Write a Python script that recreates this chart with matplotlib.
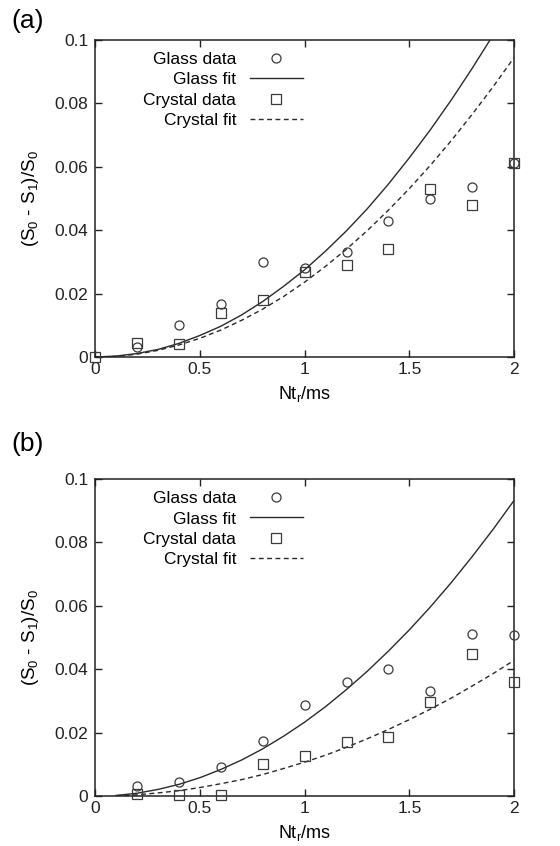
import matplotlib
matplotlib.use('Agg')
import matplotlib.pyplot as plt

plt.rcParams['font.family'] = ['Liberation Sans', 'DejaVu Sans']
plt.rcParams['mathtext.fontset'] = 'custom'
plt.rcParams['mathtext.rm'] = 'Liberation Sans'
plt.rcParams['mathtext.it'] = 'Liberation Sans'
plt.rcParams['mathtext.default'] = 'rm'

# data
data_x = [0.2, 0.4, 0.6, 0.8, 1.0, 1.2, 1.4, 1.6, 1.8, 2.0]
glass_a = [0.0033, 0.0101, 0.0167, 0.0301, 0.0282, 0.0332, 0.0430, 0.0498, 0.0537, 0.0613]
crystal_a_x = [0.0, 0.2, 0.4, 0.6, 0.8, 1.0, 1.2, 1.4, 1.6, 1.8, 2.0]
crystal_a = [0.0, 0.0045, 0.0040, 0.0140, 0.0180, 0.0269, 0.0290, 0.0340, 0.0531, 0.0480, 0.0611]
glass_b = [0.0033, 0.0044, 0.0093, 0.0175, 0.0287, 0.0361, 0.0400, 0.0330, 0.0511, 0.0507]
crystal_b = [0.0006, 0.0002, 0.0002, 0.0101, 0.0126, 0.0170, 0.0185, 0.0296, 0.0447, 0.0361]

# fit curves
fit_x = [0.0, 0.1, 0.2, 0.3, 0.4, 0.5, 0.6, 0.7, 0.8, 0.9, 1.0,
         1.1, 1.2, 1.3, 1.4, 1.5, 1.6, 1.7, 1.8, 1.9, 2.0]
glass_fit_a = [0, 0.0003, 0.0011, 0.0024, 0.0043, 0.0068, 0.0097, 0.0133, 0.0175, 0.0223, 0.0275,
               0.0334, 0.0398, 0.0468, 0.0545, 0.0628, 0.0716, 0.0810, 0.0910, 0.1015, 0.1125]
crystal_fit_a = [0, 0.0002, 0.0009, 0.0021, 0.0038, 0.0059, 0.0085, 0.0116, 0.0151, 0.0191, 0.0236,
                 0.0286, 0.0340, 0.0399, 0.0463, 0.0531, 0.0604, 0.0682, 0.0765, 0.0852, 0.0944]
glass_fit_b = [0, 0.0002, 0.0009, 0.0021, 0.0037, 0.0058, 0.0084, 0.0114, 0.0149, 0.0189, 0.0233,
               0.0282, 0.0336, 0.0394, 0.0457, 0.0524, 0.0596, 0.0673, 0.0755, 0.0841, 0.0932]
crystal_fit_b = [0, 0.0001, 0.0004, 0.0010, 0.0017, 0.0027, 0.0039, 0.0052, 0.0068, 0.0087, 0.0107,
                 0.0129, 0.0154, 0.0181, 0.0210, 0.0241, 0.0274, 0.0309, 0.0347, 0.0386, 0.0428]

x_ticks = [0, 0.5, 1, 1.5, 2]
x_tick_labels = ['0', '0.5', '1', '1.5', '2']
y_ticks = [0, 0.02, 0.04, 0.06, 0.08, 0.1]
y_tick_labels = ['0', '0.02', '0.04', '0.06', '0.08', '0.1']

line_col = '#2a2a2a'
mark_col = '#3a3a3a'
fs = 12.5


def draw_panel(ax, gx, gy, cx, cy, gfx, gfy, cfx, cfy):
    ax.plot(gx, gy, 'o', ms=6.5, mfc='none', mec=mark_col, mew=0.9,
            clip_on=False, label='Glass data', zorder=3)
    ax.plot(gfx, gfy, '-', color=line_col, lw=1.0, label='Glass fit')
    ax.plot(cx, cy, 's', ms=6.5, mfc='none', mec=mark_col, mew=0.9,
            clip_on=False, label='Crystal data', zorder=3)
    ax.plot(cfx, cfy, '--', color=line_col, lw=1.0, dashes=(3.5, 2.5), label='Crystal fit')

    ax.set_xlim(0, 2)
    ax.set_ylim(0, 0.1)
    ax.set_xticks(x_ticks)
    ax.set_xticklabels(x_tick_labels)
    ax.set_yticks(y_ticks)
    ax.set_yticklabels(y_tick_labels)
    ax.tick_params(direction='in', length=5, width=1, top=True, right=True,
                   labelsize=fs, colors='#222222')
    ax.tick_params(axis='y', pad=5)
    ax.tick_params(axis='x', pad=3.5)
    for s in ax.spines.values():
        s.set_linewidth(1.1)
        s.set_color('#222222')
    ax.set_xlabel('Nt$_r$/ms', fontsize=13, labelpad=5)
    ax.set_ylabel('(S$_0$ - S$_1$)/S$_0$', fontsize=13.5, labelpad=10)

    leg = ax.legend(loc='upper right', bbox_to_anchor=(0.525, 1.0), frameon=False,
                    markerfirst=False, fontsize=fs, handlelength=3.05,
                    handletextpad=0.8, labelspacing=0.3, borderpad=0.2)
    # right-align the labels, gnuplot style
    for col in leg._legend_handle_box.get_children():
        col.align = 'right'


fig = plt.figure(figsize=(5.6, 8.46), dpi=100)
ax1 = fig.add_axes([0.170, 0.578, 0.748, 0.375])
ax2 = fig.add_axes([0.170, 0.059, 0.748, 0.375])

draw_panel(ax1, data_x, glass_a, crystal_a_x, crystal_a,
           fit_x, glass_fit_a, fit_x, crystal_fit_a)
draw_panel(ax2, data_x, glass_b, data_x, crystal_b,
           fit_x[1:], glass_fit_b[1:], fit_x[1:], crystal_fit_b[1:])

fig.text(11 / 560, 1 - 9 / 846, '(a)', fontsize=19, ha='left', va='top')
fig.text(11 / 560, 1 - 432 / 846, '(b)', fontsize=19, ha='left', va='top')

fig.savefig('out.png', dpi=100)
